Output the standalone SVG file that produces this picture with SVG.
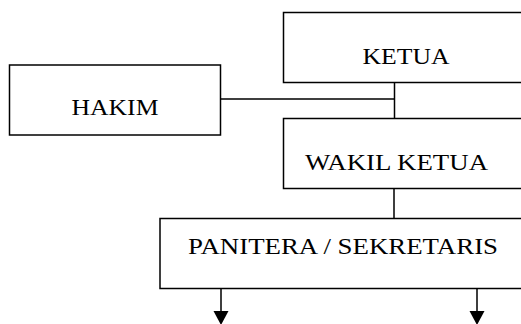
<svg xmlns="http://www.w3.org/2000/svg" width="521" height="324" viewBox="0 0 521 324">
<defs>
<style>
.box{fill:#fff;stroke:#000;stroke-width:1.5}
.ln{fill:none;stroke:#000;stroke-width:1.5}
.t{font-family:"Liberation Serif","Times New Roman",serif;font-size:24px;fill:#000}
</style>
</defs>
<rect width="521" height="324" fill="#fff"/>
<g id="connectors">
<path class="ln" d="M221 99H394.5M394.5 82V118M394 188V218"/>
<path class="ln" d="M221 288.5V312M477 288.5V312"/>
<polygon points="213.5,311 228.5,311 221,325" fill="#000"/>
<polygon points="469.5,311 484.5,311 477,325" fill="#000"/>
</g>
<g id="ketua">
<rect class="box" x="283.5" y="12.5" width="250" height="70"/>
<text class="t" x="362.5" y="63.5" textLength="87" lengthAdjust="spacingAndGlyphs">KETUA</text>
</g>
<g id="hakim">
<rect class="box" x="9.5" y="65" width="211" height="70"/>
<text class="t" x="71.5" y="114.5" textLength="87" lengthAdjust="spacingAndGlyphs">HAKIM</text>
</g>
<g id="wakil-ketua">
<rect class="box" x="283.5" y="118.5" width="250" height="70"/>
<text class="t" x="305" y="169.5" textLength="183" lengthAdjust="spacingAndGlyphs">WAKIL KETUA</text>
</g>
<g id="panitera">
<rect class="box" x="160" y="218.5" width="380" height="70"/>
<text class="t" x="188" y="254" textLength="310" lengthAdjust="spacingAndGlyphs">PANITERA / SEKRETARIS</text>
</g>
</svg>
